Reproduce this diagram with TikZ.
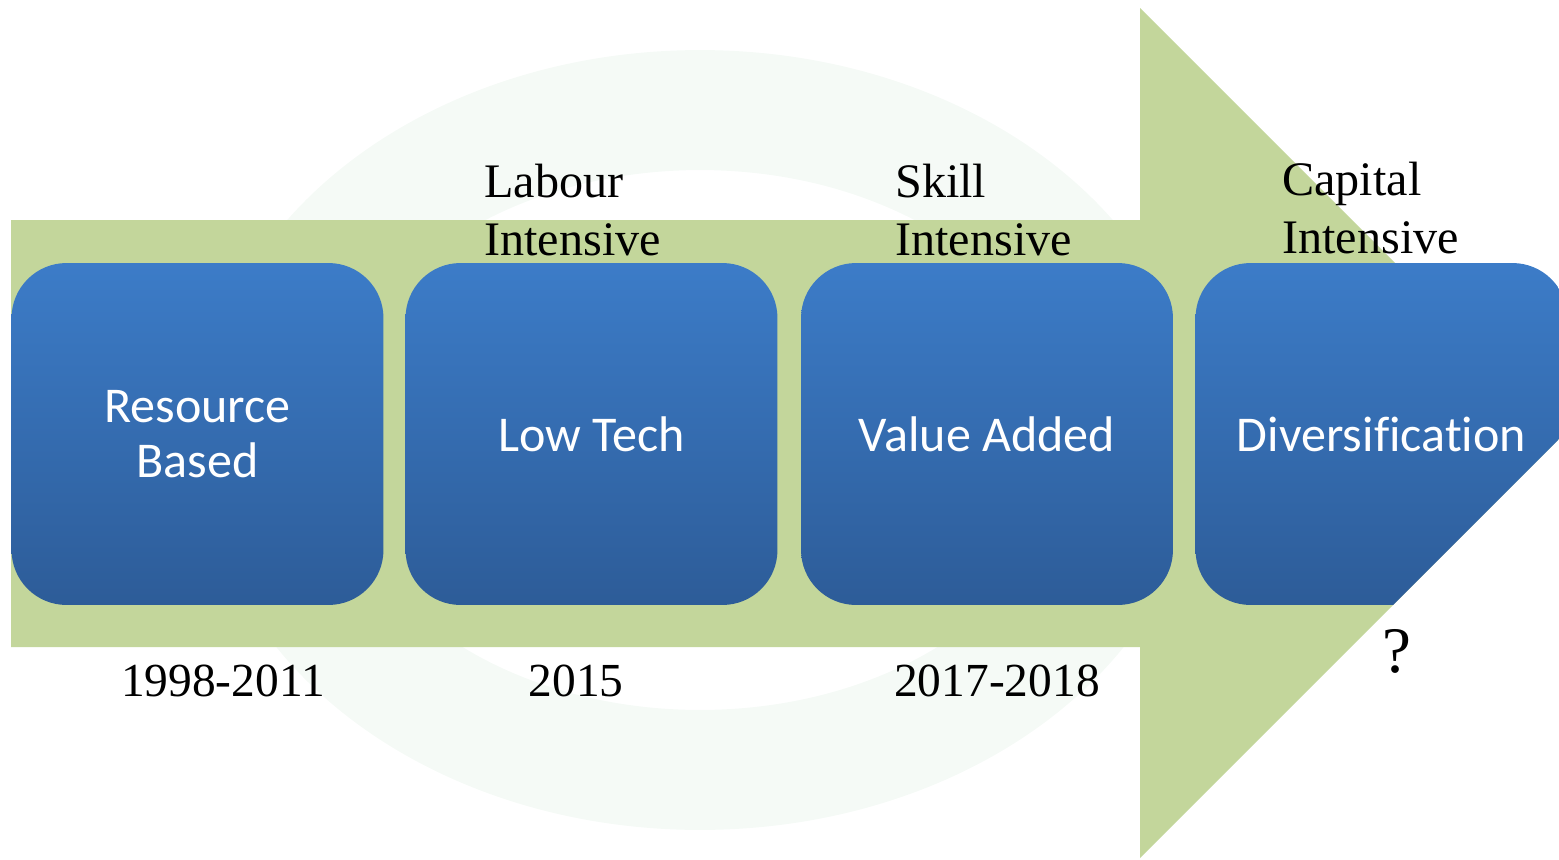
\documentclass[tikz,border=0pt]{standalone}
\usepackage{fontspec}
\setmainfont{Liberation Serif}
\newfontfamily\boxfont[Ligatures={NoCommon}]{Carlito}
\definecolor{arrowgreen}{RGB}{195,214,155}
\definecolor{boxtop}{RGB}{60,124,200}
\definecolor{boxbot}{RGB}{45,92,152}
\definecolor{wmark}{RGB}{245,250,246}
\begin{document}
\begin{tikzpicture}[x=0.02cm,y=-0.02cm,
  stage/.style={rounded corners=1.1cm, top color=boxtop, bottom color=boxbot, draw=none,
    minimum width=7.44cm, minimum height=6.84cm, inner sep=0pt,
    font=\boxfont\fontsize{28.5}{31.3}\selectfont, text=white, align=center},
  phase/.style={font=\fontsize{27.4}{33}\selectfont, align=left, anchor=north west, inner sep=0pt},
  year/.style={font=\fontsize{27}{33}\selectfont, anchor=base, inner sep=0pt}]
\useasboundingbox (0,0) rectangle (1559,859);
\clip (0,0) rectangle (1559,859);
% faint watermark ring
\fill[wmark, even odd rule] (700,440) ellipse [x radius=10cm, y radius=7.8cm]
                            (700,440) ellipse [x radius=7.4cm, y radius=5.4cm];
% big arrow
\fill[arrowgreen] (11,220) -- (1140,220) -- (1140,8) -- (1565,433) -- (1140,858)
   -- (1140,647) -- (11,647) -- cycle;
% stages
\node[stage] (s1) at (197.5,434) {Resource\\Based};
\node[stage] (s2) at (591.5,434) {Low Tech};
\node[stage] (s3) at (987,434) {Value Added};
\begin{scope}
  \clip (1100,0) -- (1600,0) -- (1600,398) -- (1140,858) -- (1100,858) -- cycle;
  \node[stage] (s4) at (1381.5,434) {Diversification};
\end{scope}
% phase labels
\node[phase] (p2) at (484,164) {Labour\\Intensive};
\node[phase] (p3) at (895,164) {Skill\\Intensive};
\node[phase] (p4) at (1282,162) {Capital\\Intensive};
% years
\node[year] (y1) at (223,696) {1998-2011};
\node[year] (y2) at (576,696) {2015};
\node[year] (y3) at (997,696) {2017-2018};
\node[year, font=\fontsize{37}{40}\selectfont] (y4) at (1397,672) {?};
\end{tikzpicture}
\end{document}
